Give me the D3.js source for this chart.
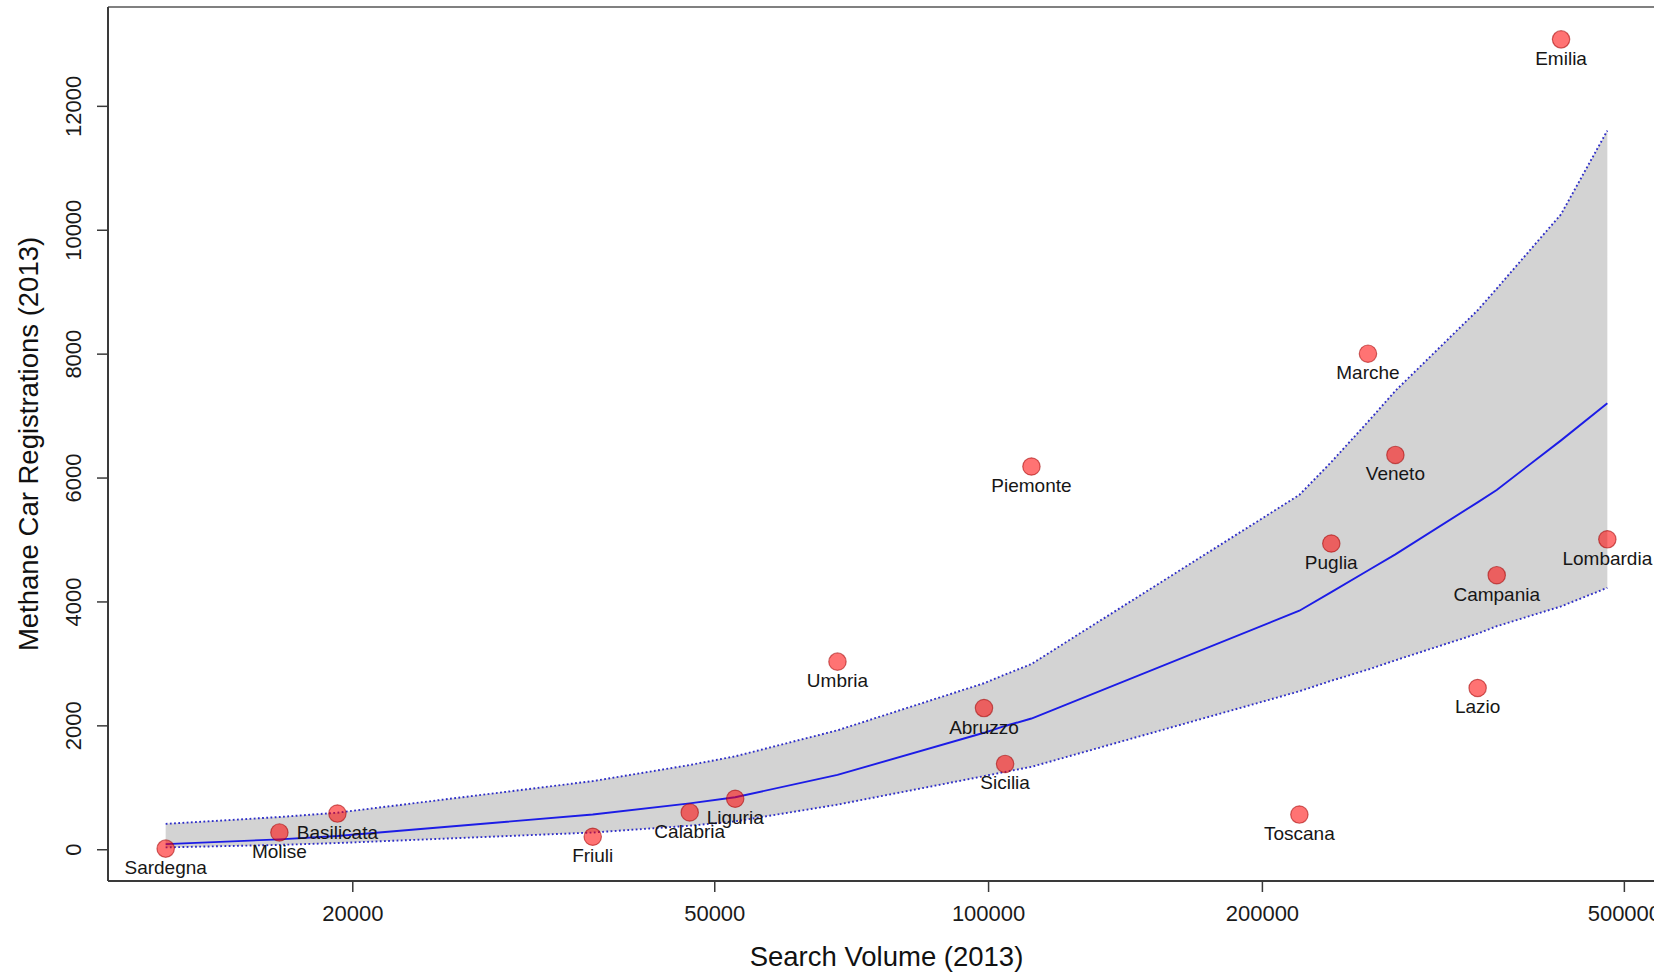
<!DOCTYPE html>
<html>
<head>
<meta charset="utf-8">
<script src="https://cdn.jsdelivr.net/npm/d3@7"></script>
<style>
  html, body { margin: 0; padding: 0; background: #fff; }
  svg { display: block; font-family: "Liberation Sans", Arial, sans-serif; }
</style>
</head>
<body>
<svg id="chart" width="1654" height="975"></svg>
<script>
// Regions, Google search volume and methane car registrations, 2013
const regions = ["Sardegna", "Molise", "Basilicata", "Friuli", "Calabria", "Liguria",
  "Umbria", "Abruzzo", "Sicilia", "Piemonte", "Toscana", "Puglia", "Marche",
  "Veneto", "Lazio", "Campania", "Emilia", "Lombardia"];
const searchVolume = [12470, 16630, 19260, 36760, 46990, 52720, 68300, 98970, 104400,
  111600, 219900, 238400, 261600, 280400, 345300, 362400, 426500, 479500];
const registrations = [10, 271, 576, 202, 594, 815, 3028, 2279, 1377,
  6178, 560, 4935, 7999, 6365, 2603, 4424, 13073, 5003];

// Fitted curve with its confidence band, evaluated at each region's search volume
const fitVolume = searchVolume;
const fitMid  = [82, 160, 215, 560, 740, 840, 1200, 1880, 1990, 2110,
  3850, 4150, 4500, 4760, 5600, 5800, 6600, 7200];
const fitLow  = [30, 70, 100, 270, 380, 450, 720, 1180, 1250, 1330,
  2550, 2720, 2900, 3050, 3480, 3600, 3920, 4220];
const fitHigh = [410, 520, 590, 1100, 1360, 1500, 1920, 2680, 2820, 2990,
  5720, 6250, 6900, 7400, 8700, 9050, 10250, 11600];

const xTicks = [20000, 50000, 100000, 200000, 500000];
const yTicks = [0, 2000, 4000, 6000, 8000, 10000, 12000];

const xTitle = "Search Volume (2013)";
const yTitle = "Methane Car Registrations (2013)";

// Plot box, with the usual 4% padding around the data range
const box = { left: 108, right: 1665, top: 7, bottom: 881 };

const lx = d3.extent(searchVolume).map(Math.log10);
const padX = (lx[1] - lx[0]) * 0.04;
const x = d3.scaleLog()
  .domain([Math.pow(10, lx[0] - padX), Math.pow(10, lx[1] + padX)])
  .range([box.left, box.right]);

const ey = d3.extent(registrations);
const padY = (ey[1] - ey[0]) * 0.04;
const y = d3.scaleLinear()
  .domain([ey[0] - padY, ey[1] + padY])
  .range([box.bottom, box.top]);

const svg = d3.select("#chart");

svg.append("defs").append("clipPath").attr("id", "plotclip")
  .append("rect")
  .attr("x", box.left).attr("y", box.top)
  .attr("width", box.right - box.left).attr("height", box.bottom - box.top);

const plot = svg.append("g").attr("clip-path", "url(#plotclip)");

const fit = fitVolume.map((v, i) => ({ v, mid: fitMid[i], lo: fitLow[i], hi: fitHigh[i] }));

// confidence band
plot.append("path")
  .datum(fit)
  .attr("d", d3.area().x(d => x(d.v)).y0(d => y(d.lo)).y1(d => y(d.hi)))
  .attr("fill", "#d3d3d3")
  .attr("stroke", "none");

// band limits, dotted
["hi", "lo"].forEach(k => {
  plot.append("path")
    .datum(fit)
    .attr("d", d3.line().x(d => x(d.v)).y(d => y(d[k])))
    .attr("fill", "none")
    .attr("stroke", "#2e2ec8")
    .attr("stroke-width", 1.9)
    .attr("stroke-dasharray", "1.8,2.4");
});

// fitted line
plot.append("path")
  .datum(fit)
  .attr("d", d3.line().x(d => x(d.v)).y(d => y(d.mid)))
  .attr("fill", "none")
  .attr("stroke", "#1c1ce6")
  .attr("stroke-width", 1.9);

const pts = regions.map((r, i) => ({ r, v: searchVolume[i], n: registrations[i] }));

// region points
svg.append("g").selectAll("circle")
  .data(pts)
  .join("circle")
  .attr("cx", d => x(d.v))
  .attr("cy", d => y(d.n))
  .attr("r", 8.7)
  .attr("fill", "rgba(255,0,0,0.55)")
  .attr("stroke", "rgba(160,0,0,0.55)")
  .attr("stroke-width", 1.2);

// region labels under each point
svg.append("g").selectAll("text")
  .data(pts)
  .join("text")
  .attr("x", d => x(d.v))
  .attr("y", d => y(d.n) + 19)
  .attr("text-anchor", "middle")
  .attr("dominant-baseline", "central")
  .attr("font-size", 19)
  .attr("fill", "#161616")
  .text(d => d.r);

// box
svg.append("line")
  .attr("x1", box.left).attr("x2", box.right)
  .attr("y1", box.top).attr("y2", box.top)
  .attr("stroke", "#808080").attr("stroke-width", 2);
svg.append("line")
  .attr("x1", box.left).attr("x2", box.left)
  .attr("y1", box.top).attr("y2", box.bottom)
  .attr("stroke", "#3a3a3a").attr("stroke-width", 2);
svg.append("line")
  .attr("x1", box.left).attr("x2", box.right)
  .attr("y1", box.bottom).attr("y2", box.bottom)
  .attr("stroke", "#3a3a3a").attr("stroke-width", 2);

// x axis
const gx = svg.append("g")
  .attr("transform", `translate(0,${box.bottom})`)
  .call(d3.axisBottom(x).tickValues(xTicks).tickFormat(d3.format("d")).tickSize(11).tickPadding(13));
gx.select(".domain").remove();
gx.selectAll(".tick line").attr("stroke", "#3a3a3a").attr("stroke-width", 1.5);
gx.selectAll(".tick text")
  .attr("font-size", 22)
  .attr("fill", "#1a1a1a")
  .attr("font-family", "Liberation Sans, Arial, sans-serif");

// y axis with vertical labels
const gy = svg.append("g")
  .attr("transform", `translate(${box.left},0)`)
  .call(d3.axisLeft(y).tickValues(yTicks).tickFormat(d3.format("d")).tickSize(11));
gy.select(".domain").remove();
gy.selectAll(".tick line").attr("stroke", "#3a3a3a").attr("stroke-width", 1.5);
gy.selectAll(".tick text")
  .attr("font-size", 22)
  .attr("fill", "#1a1a1a")
  .attr("font-family", "Liberation Sans, Arial, sans-serif")
  .attr("x", null).attr("dy", null)
  .attr("text-anchor", "middle")
  .attr("dominant-baseline", "central")
  .attr("transform", `translate(${73.8 - box.left},0) rotate(-90)`);

// axis titles
svg.append("text")
  .attr("x", (box.left + box.right) / 2)
  .attr("y", 956)
  .attr("text-anchor", "middle")
  .attr("dominant-baseline", "central")
  .attr("font-size", 27.5)
  .attr("fill", "#111")
  .text(xTitle);

svg.append("text")
  .attr("transform", `translate(28.5,${(box.top + box.bottom) / 2}) rotate(-90)`)
  .attr("text-anchor", "middle")
  .attr("dominant-baseline", "central")
  .attr("font-size", 27.5)
  .attr("fill", "#111")
  .text(yTitle);
</script>
</body>
</html>
